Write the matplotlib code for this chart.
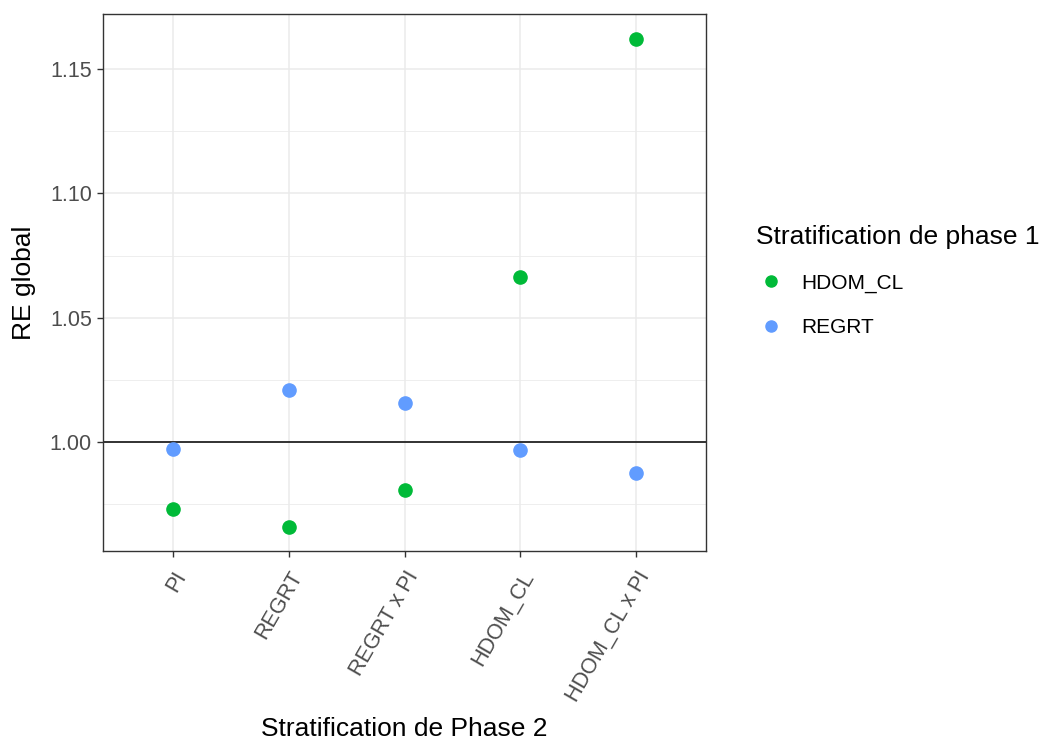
import numpy as np
import matplotlib.pyplot as plt
from matplotlib.lines import Line2D

plt.rcParams['font.family'] = ['Liberation Sans', 'DejaVu Sans']

categories = ['PI', 'REGRT', 'REGRT x PI', 'HDOM_CL', 'HDOM_CL x PI']
hdom_cl = [0.9731, 0.9659, 0.9807, 1.0663, 1.1622]
regrt = [0.9972, 1.0209, 1.0157, 0.9968, 0.9875]

green = '#00BA38'
blue = '#619CFF'

fig = plt.figure(figsize=(10.39, 7.44), dpi=100)
ax = fig.add_axes([103/1039, 1 - 551/744, 603/1039, 537/744])

x = np.arange(1, len(categories) + 1)
ax.plot(x, hdom_cl, 'o', color=green, markersize=9.5, zorder=3)
ax.plot(x, regrt, 'o', color=blue, markersize=9.5, zorder=3)
ax.axhline(1.0, color='black', lw=1.1, zorder=2)

ax.set_xlim(0.4, 5.6)
ax.set_ylim(0.9562, 1.1721)
ax.set_xticks(x)
ax.set_xticklabels(categories, rotation=60, ha='right', va='top', rotation_mode='anchor')
ax.set_yticks([1.00, 1.05, 1.10, 1.15])
ax.set_yticklabels(['1.00', '1.05', '1.10', '1.15'])
ax.set_yticks([0.975, 1.025, 1.075, 1.125], minor=True)
ax.grid(True, which='major', color='#ebebeb', lw=1.1, zorder=0)
ax.grid(True, which='minor', axis='y', color='#ebebeb', lw=0.6, zorder=0)
ax.tick_params(axis='both', which='major', labelsize=15.5, colors='#333333', length=4, width=1.0,
               labelcolor='#4d4d4d')
ax.tick_params(axis='x', which='major', pad=8)
ax.tick_params(axis='y', which='major', pad=4)
ax.tick_params(axis='y', which='minor', length=0)
for s in ax.spines.values():
    s.set_color('#333333')
    s.set_linewidth(1.0)

ax.set_xlabel('Stratification de Phase 2', fontsize=19, labelpad=8)
ax.set_ylabel('RE global', fontsize=19, labelpad=10)

handles = [Line2D([], [], ls='', marker='o', color=green, markersize=8),
           Line2D([], [], ls='', marker='o', color=blue, markersize=8)]
leg = fig.legend(handles, ['HDOM_CL', 'REGRT'], title='Stratification de phase 1',
                 loc='upper left', bbox_to_anchor=(737/1039, 1 - 206/744), frameon=False,
                 fontsize=15, title_fontsize=19, labelspacing=1.2, handletextpad=0.7,
                 handlelength=1.5)
leg._legend_box.align = 'left'
leg.get_title().set_y(0)

fig.savefig('out.png', dpi=100)
